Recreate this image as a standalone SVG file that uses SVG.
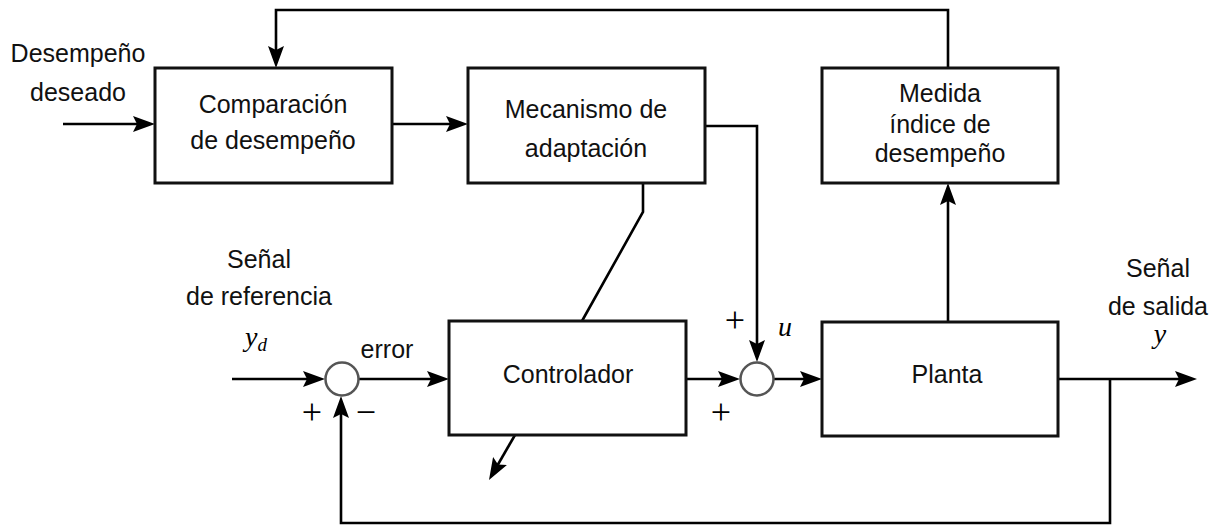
<svg xmlns="http://www.w3.org/2000/svg" width="1222" height="525" viewBox="0 0 1222 525">
  <style>
    .box { fill: #fff; stroke: #111; stroke-width: 3; }
    .sum { fill: #fff; stroke: #555; stroke-width: 2.5; }
    .wire { fill: none; stroke: #000; stroke-width: 2.6; stroke-linejoin: miter; }
    .arr { marker-end: url(#head); }
    .lbl { font-family: "Liberation Sans", Arial, sans-serif; font-size: 25px; fill: #111; text-anchor: middle; }
    .math { font-family: "Liberation Serif", "DejaVu Serif", serif; font-style: italic; font-size: 28px; fill: #000; text-anchor: middle; }
    .sign { font-family: "Liberation Serif", "DejaVu Serif", serif; font-size: 36px; fill: #000; text-anchor: middle; }
  </style>
  <defs>
    <marker id="head" markerUnits="userSpaceOnUse" markerWidth="22" markerHeight="16" refX="11" refY="8" orient="auto">
      <path d="M0,0 L22,8 L0,16 L4,8 Z" fill="#000"/>
    </marker>
  </defs>

  <rect width="1222" height="525" fill="#fff"/>

  <!-- connectors -->
  <g id="connectors">
    <path class="wire arr" d="M63,124 H144"/>
    <path class="wire arr" d="M392,124 H457"/>
    <path class="wire arr" d="M948,68 V10 H276 V57"/>
    <path class="wire arr" d="M705,126 H757 V351"/>
    <path class="wire" d="M643,183 V212 L582,321"/>
    <path class="wire arr" d="M232,379 H314"/>
    <path class="wire arr" d="M359,379 H438"/>
    <path class="wire arr" d="M686,379 H729"/>
    <path class="wire arr" d="M774,379 H811"/>
    <path class="wire arr" d="M1058,379 H1186"/>
    <path class="wire arr" d="M948,322 V194"/>
    <path class="wire arr" d="M1110,379 V523 H341 V407"/>
    <path class="wire arr" d="M515,435 L494.5,470.5"/>
  </g>

  <!-- external labels -->
  <g id="labels">
    <text class="lbl" x="78" y="62">Desempeño</text>
    <text class="lbl" x="78" y="101">deseado</text>
    <text class="lbl" x="259" y="268">Señal</text>
    <text class="lbl" x="259" y="305">de referencia</text>
    <text class="math" x="256" y="346">y<tspan font-size="19" dy="5">d</tspan></text>
    <text class="lbl" x="387" y="358">error</text>
    <text class="sign" x="312" y="424">+</text>
    <text class="sign" x="366" y="424">−</text>
    <text class="sign" x="735" y="332">+</text>
    <text class="sign" x="721" y="424">+</text>
    <text class="math" x="785" y="336">u</text>
    <text class="lbl" x="1158" y="277">Señal</text>
    <text class="lbl" x="1158" y="315">de salida</text>
    <text class="math" x="1160" y="343">y</text>
  </g>

  <g id="comparacion">
    <rect class="box" x="155" y="68" width="237" height="115"/>
    <text class="lbl" x="273" y="113">Comparación</text>
    <text class="lbl" x="273" y="149">de desempeño</text>
  </g>

  <g id="mecanismo">
    <rect class="box" x="468" y="68" width="237" height="115"/>
    <text class="lbl" x="586" y="118">Mecanismo de</text>
    <text class="lbl" x="586" y="157">adaptación</text>
  </g>

  <g id="medida">
    <rect class="box" x="822" y="68" width="236" height="115"/>
    <text class="lbl" x="940" y="102">Medida</text>
    <text class="lbl" x="940" y="133">índice de</text>
    <text class="lbl" x="940" y="162">desempeño</text>
  </g>

  <g id="suma1">
    <circle class="sum" cx="342" cy="379" r="16.5"/>
  </g>

  <g id="controlador">
    <rect class="box" x="449" y="321" width="237" height="114"/>
    <text class="lbl" x="568" y="383">Controlador</text>
  </g>

  <g id="suma2">
    <circle class="sum" cx="757" cy="379" r="16.5"/>
  </g>

  <g id="planta">
    <rect class="box" x="822" y="322" width="236" height="114"/>
    <text class="lbl" x="947" y="383">Planta</text>
  </g>
</svg>
